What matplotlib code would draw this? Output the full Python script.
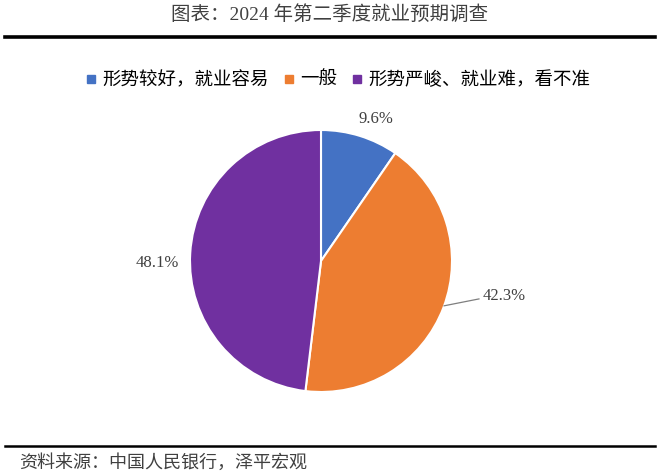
import numpy as np
import matplotlib.pyplot as plt
from matplotlib.lines import Line2D

plt.rcParams['font.family'] = ['Liberation Serif', 'Noto Sans CJK SC']

labels = ['形势较好，就业容易', '一般', '形势严峻、就业难，看不准']
values = [9.6, 42.3, 48.1]
colors = ['#4472C4', '#ED7D31', '#7030A0']
title = '图表：2024 年第二季度就业预期调查'
source = '资料来源：中国人民银行，泽平宏观'

W, H = 660, 475
fig = plt.figure(figsize=(W / 100, H / 100), dpi=100)

# title and rules
fig.text(330 / W, 1 - 15 / H, title, ha='center', va='center', fontsize=14, color='#404040')
fig.add_artist(Line2D([5 / W, 655 / W], [1 - 37 / H, 1 - 37 / H], color='black', lw=2.6))
fig.add_artist(Line2D([5 / W, 655 / W], [1 - 446 / H, 1 - 446 / H], color='black', lw=1.8))
fig.text(19 / W, 1 - 463 / H, source, ha='left', va='center', fontsize=13, color='#404040',
         style='italic', family=['Noto Sans CJK SC', 'DejaVu Sans'])

# pie
cx, cy, r = 321, 261, 131
ax = fig.add_axes([(cx - r) / W, 1 - (cy + r) / H, 2 * r / W, 2 * r / H])
wedges, _ = ax.pie(values, colors=colors, startangle=90, counterclock=False,
                   wedgeprops=dict(edgecolor='white', linewidth=1.5))
ax.set_aspect('equal')
ax.set_xlim(-1, 1)
ax.set_ylim(-1, 1)

# label angle offsets / radii for the outside labels
label_pos = [(-4, 1.16), None, (4, 1.25)]
for i, w in enumerate(wedges):
    txt = '%.1f%%' % values[i]
    if i == 1:
        ang_line = np.deg2rad(-13.5)
        x0, y0 = np.cos(np.deg2rad(-20)), np.sin(np.deg2rad(-20))
        x1, y1 = 1.24 * np.cos(ang_line), 1.24 * np.sin(ang_line)
        ax.plot([x0, x1], [y0, y1], color='#7f7f7f', lw=0.9, clip_on=False)
        ax.text(x1 + 0.03, y1 + 0.02, txt, ha='left', va='center', fontsize=12, color='#404040')
    else:
        off, rr = label_pos[i]
        ang = np.deg2rad((w.theta1 + w.theta2) / 2 + off)
        ax.text(rr * np.cos(ang), rr * np.sin(ang), txt,
                ha='center', va='center', fontsize=12, color='#404040')

# legend
handles = [Line2D([], [], marker='s', color=c, linestyle='none', markersize=5.5) for c in colors]
fig.legend(handles, labels, loc='center', bbox_to_anchor=(338 / W, 1 - 80 / H), ncol=3,
           frameon=False, handlelength=0.6, handletextpad=0.3, columnspacing=0.8,
           prop=dict(family=['Noto Sans CJK SC', 'DejaVu Sans'], size=13.3, weight='medium'))

fig.savefig('out.png', dpi=100)
